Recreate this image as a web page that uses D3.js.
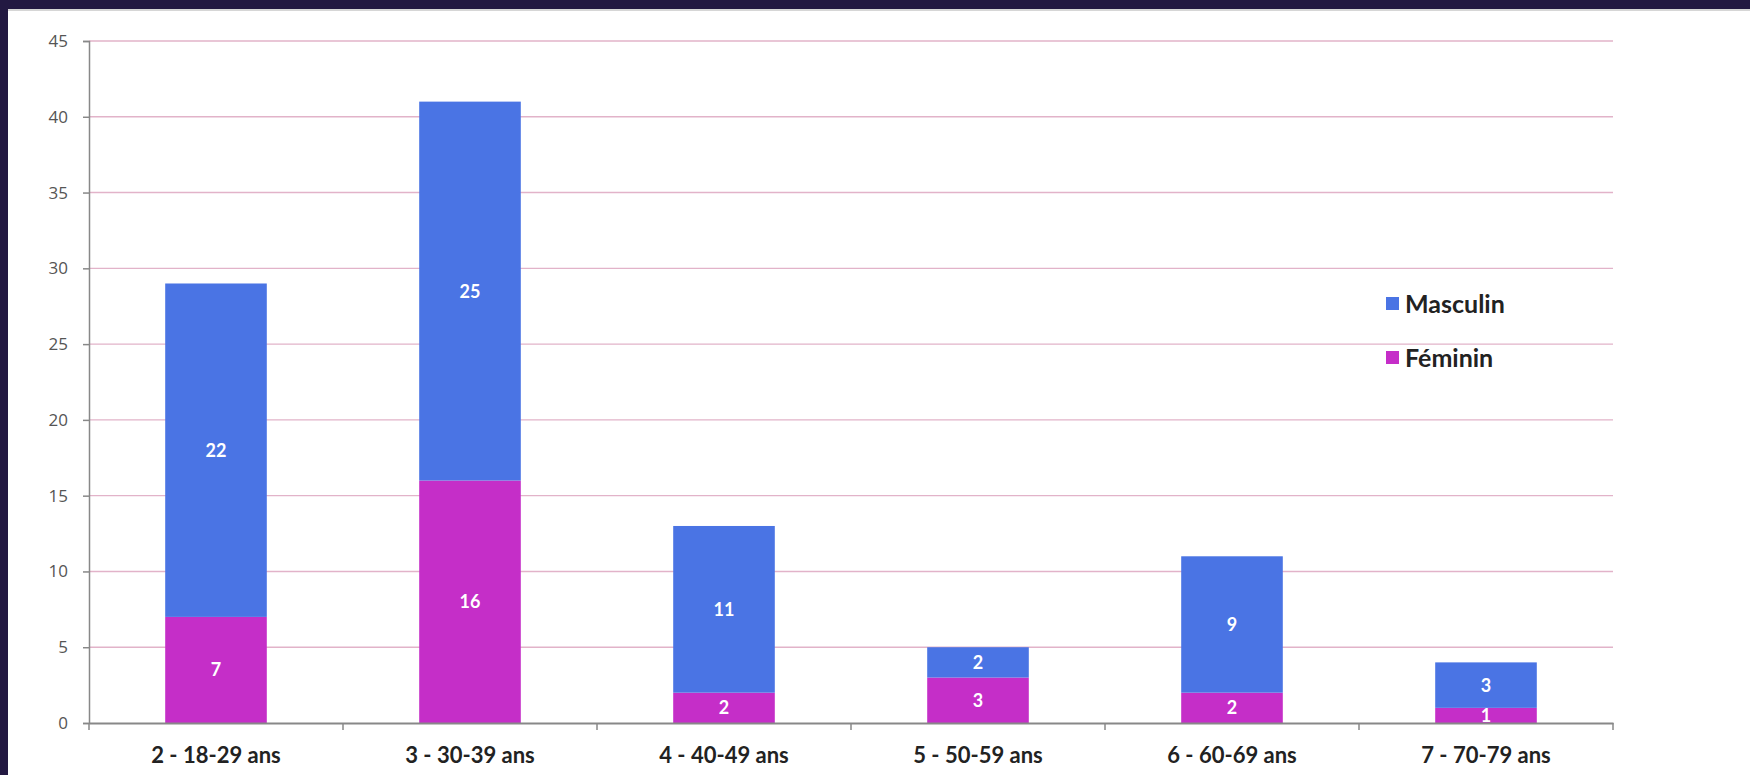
<!DOCTYPE html>
<html><head><meta charset="utf-8">
<script src="https://cdn.jsdelivr.net/npm/d3@7"></script>
<style>
html,body{margin:0;padding:0;background:#fff;}
svg{display:block;}
</style></head>
<body>
<svg id="c" width="1750" height="775"></svg>
<script>
const categories = ["2 - 18-29 ans","3 - 30-39 ans","4 - 40-49 ans","5 - 50-59 ans","6 - 60-69 ans","7 - 70-79 ans"];
const feminin = [7,16,2,3,2,1];
const masculin = [22,25,11,2,9,3];
const seriesNames = ["Féminin","Masculin"];
const yTicks = [0,5,10,15,20,25,30,35,40,45];

(function(){
const colors = {"Masculin":"#4a74e4","Féminin":"#c52ec8"};
const svg = d3.select("#c");
const W=1750,H=775;
// frame
svg.append("rect").attr("x",0).attr("y",0).attr("width",W).attr("height",H).attr("fill","#fff");
svg.append("rect").attr("x",0).attr("y",0).attr("width",W).attr("height",9).attr("fill","#231942");
svg.append("rect").attr("x",0).attr("y",0).attr("width",8).attr("height",H).attr("fill","#231942");
svg.append("rect").attr("x",8).attr("y",9).attr("width",W-8).attr("height",2).attr("fill","#bbb").attr("opacity",0.6);

const pl=89,pr=1613,pt=41,pb=723;
const x = d3.scaleBand().domain(categories).range([pl,pr]).paddingInner(0.6).paddingOuter(0.3);
const y = d3.scaleLinear().domain([0,45]).range([pb,pt]);

// grid
svg.append("g").selectAll("line").data(yTicks.filter(d=>d>0)).join("line")
  .attr("x1",pl).attr("x2",pr).attr("y1",d=>y(d)).attr("y2",d=>y(d))
  .attr("stroke","#e2b3c9").attr("stroke-width",1.4);

const table = categories.map((c,i)=>({cat:c,"Féminin":feminin[i],"Masculin":masculin[i]}));
const stack = d3.stack().keys(seriesNames)(table);

const g = svg.append("g");
stack.forEach(s=>{
  g.selectAll(null).data(s).join("rect")
   .attr("x",d=>x(d.data.cat)).attr("width",x.bandwidth())
   .attr("y",d=>y(d[1])).attr("height",d=>y(d[0])-y(d[1]))
   .attr("fill",colors[s.key]);
  g.selectAll(null).data(s).join("text")
   .attr("x",d=>x(d.data.cat)+x.bandwidth()/2)
   .attr("y",d=>(y(d[0])+y(d[1]))/2)
   .attr("dy","0.36em").attr("text-anchor","middle")
   .attr("fill","#fff").attr("font-family","Lato, sans-serif").attr("font-weight","bold").attr("font-size",18)
   .text(d=>d[1]-d[0]);
});

// y axis
const yAxis = svg.append("g").attr("transform",`translate(${pl},0)`)
  .call(d3.axisLeft(y).tickValues(yTicks).tickSize(6).tickPadding(15));
yAxis.select(".domain").attr("stroke","#888").attr("stroke-width",1.5);
yAxis.selectAll(".tick line").attr("stroke","#888").attr("stroke-width",1.5);
yAxis.selectAll("text").attr("font-family","'Open Sans', sans-serif").attr("font-size",17).attr("fill","#555");

// x axis
const xAxis = svg.append("g").attr("transform",`translate(0,${pb})`)
  .call(d3.axisBottom(x).tickSize(0).tickPadding(24));
xAxis.select(".domain").attr("stroke","#888").attr("stroke-width",2);
xAxis.selectAll("text").attr("font-family","Lato, sans-serif").attr("font-weight","bold").attr("font-size",22).attr("fill","#222");
const bounds = d3.range(categories.length+1).map(i=>pl + i*(pr-pl)/categories.length);
svg.append("g").selectAll("line").data(bounds).join("line")
  .attr("x1",d=>d).attr("x2",d=>d).attr("y1",pb).attr("y2",pb+7)
  .attr("stroke","#888").attr("stroke-width",1.5);

// legend
const legend = svg.append("g");
const legItems = ["Masculin","Féminin"];
legItems.forEach((k,i)=>{
  const ly = 304 + i*54;
  legend.append("rect").attr("x",1386).attr("y",ly-7).attr("width",13).attr("height",13).attr("fill",colors[k]);
  legend.append("text").attr("x",1405).attr("y",ly).attr("dy","0.36em")
    .attr("font-family","Lato, sans-serif").attr("font-weight","bold").attr("font-size",25).attr("fill","#222").text(k);
});
})();
</script>
</body></html>
